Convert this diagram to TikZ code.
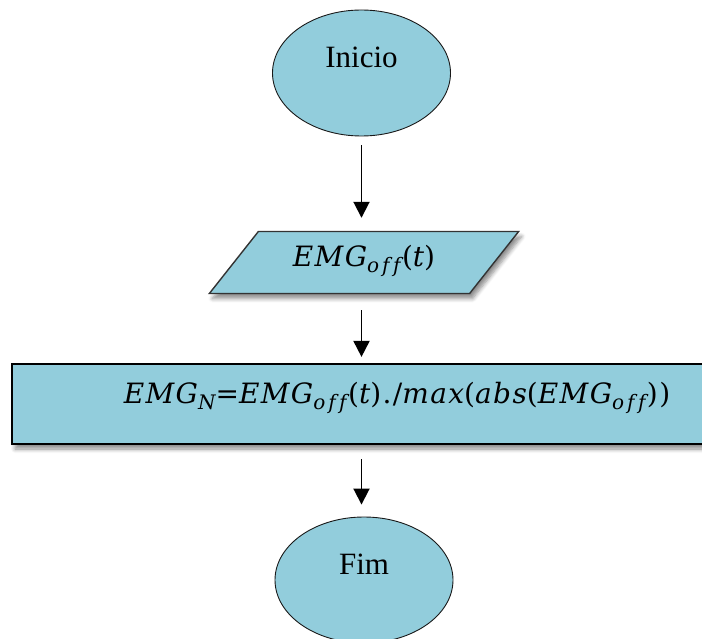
\documentclass[tikz,border=0pt]{standalone}
\usepackage{fontspec}
\setmainfont{Liberation Serif}
\newfontfamily\formulafont[LetterSpace=5]{DejaVu Serif}
\usetikzlibrary{shapes.geometric,arrows.meta,shadows.blur}
\definecolor{boxblue}{RGB}{146,205,220}
% italic variable name and lowered italic index, in the formula font
\newcommand\va[1]{{\itshape #1}}
\newcommand\ix[1]{\raisebox{-6pt}{\fontsize{20}{20}\selectfont\itshape #1}}
\newcommand\off{\ix{o\kern3pt f\kern3.5pt f\kern1.5pt}}
\begin{document}
\begin{tikzpicture}[x=1pt,y=-1pt,
  terminal/.style={ellipse,draw=black!90,line width=0.9pt,fill=boxblue,
    minimum width=178pt,minimum height=126pt,inner sep=0pt,
    text depth=31pt,font=\fontsize{31}{31}\selectfont},
  softshadow/.style={blur shadow={shadow xshift=3pt,shadow yshift=-5pt,
    shadow blur radius=4pt,shadow blur steps=6,shadow opacity=45}},
  inputbox/.style={trapezium,trapezium left angle=45,trapezium right angle=135,
    trapezium stretches=true,draw=black!80,line width=1.4pt,fill=boxblue,
    minimum width=310pt,minimum height=62pt,inner sep=0pt,
    text height=21pt,text depth=12pt,softshadow,
    font=\formulafont\fontsize{28}{28}\selectfont},
  procbox/.style={rectangle,draw=black,line width=2.2pt,fill=boxblue,
    minimum width=770pt,minimum height=80pt,inner sep=0pt,
    text height=25pt,text depth=27pt,softshadow,
    font=\formulafont\fontsize{28}{28}\selectfont},
  flow/.style={-{Triangle[length=16pt,width=16pt]},line width=1.9pt}
]
\useasboundingbox (0,0) rectangle (702,639);
\clip (0,0) rectangle (702,639);

% flowchart blocks
\node[terminal] (start) at (361.5,73) {Inicio};
\node[inputbox] (in) at (364,262.5) {\va{EMG}\off(\va{t})};
\node[procbox] (proc) at (397,404)
  {\va{EMG}\ix{N}=\va{EMG}\off(\va{t})./\va{max}(\va{abs}(\va{EMG}\off))};
\node[terminal] (stop) at (364,580) {Fim};

% connectors
\draw[flow,shorten <=9pt,shorten >=13pt] (start.south) -- (start.south |- in.north);
\draw[flow,shorten <=16pt,shorten >=6pt] (start.south |- in.south) -- (start.south |- proc.north);
\draw[flow,shorten <=14pt,shorten >=12pt] (start.south |- proc.south) -- (start.south |- stop.north);
\end{tikzpicture}
\end{document}
